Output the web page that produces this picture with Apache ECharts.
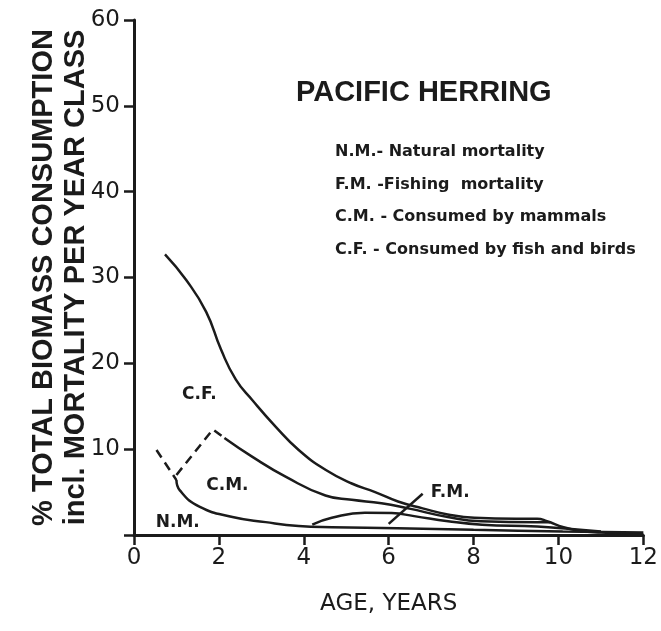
<!DOCTYPE html>
<html>
<head>
<meta charset="utf-8">
<script src="https://cdn.jsdelivr.net/npm/echarts@6/dist/echarts.min.js"></script>
<style>
  html, body { margin: 0; padding: 0; background: #fff; }
  #main { width: 661px; height: 631px; }
</style>
</head>
<body>
<div id="main"></div>
<script>
// ages / percent values
const cfCurve = [[0.73, 32.7], [1.23, 29.7], [1.7, 26.0], [2.05, 21.6], [2.4, 18.1],
  [2.79, 15.7], [3.34, 12.6], [3.88, 9.9], [4.51, 7.6], [5.13, 6.0], [5.68, 5.0], [6.22, 3.9],
  [6.8, 3.1], [7.39, 2.4], [8.02, 2.0], [9.0, 1.9], [9.5, 1.9], [9.73, 1.6], [10.12, 0.9],
  [10.5, 0.5], [11, 0.3], [12, 0.1]];
const cmDashed = [[1.0, 7.0], [1.86, 12.3], [2.13, 11.3]];
const cmCurve = [[2.13, 11.3], [2.79, 9.1], [3.57, 6.8], [4.51, 4.6], [5.13, 4.1],
  [5.83, 3.7], [6.46, 3.1], [7.39, 2.1], [8.17, 1.6], [9.5, 1.5], [9.8, 1.5]];
const nmDashed = [[0.53, 9.9], [1.0, 6.4]];
const nmCurve = [[1.0, 6.4], [1.08, 5.2], [1.54, 3.3], [2.32, 2.1], [3.1, 1.5], [3.88, 1.05],
  [4.66, 0.9], [6.2, 0.8], [8, 0.6], [10.1, 0.4], [12, 0.3]];
const fmCurve = [[4.2, 1.2], [4.66, 2.0], [5.44, 2.6], [6.07, 2.55], [6.6, 2.2], [7.4, 1.6],
  [8.2, 1.2], [9.5, 1.0], [10.3, 0.7], [11, 0.4]];
const fmPointer = [[6.0, 1.3], [6.8, 4.8]];

const curveLabels = [
  { text: "C.F.", at: [1.54, 16.4] },
  { text: "C.M.", at: [2.2, 5.7] },
  { text: "N.M.", at: [1.03, 1.5] },
  { text: "F.M.", at: [7.45, 5.0] },
];
const legendLines = [
  "N.M.- Natural mortality",
  "F.M. -Fishing  mortality",
  "C.M. - Consumed by mammals",
  "C.F. - Consumed by fish and birds",
];

const ink = "#1b1b1b";
const chart = echarts.init(document.getElementById("main"));

function lineSeries(name, data, dashed, smooth) {
  return {
    name: name,
    type: "line",
    data: data,
    smooth: smooth,
    symbol: "none",
    silent: true,
    lineStyle: { color: ink, width: 2.5, type: dashed ? [9, 6] : "solid" },
  };
}

const option = {
  backgroundColor: "#fff",
  animation: false,
  grid: { left: 134, right: 14, top: 20, bottom: 96 },
  xAxis: {
    type: "value",
    min: 0,
    max: 12,
    interval: 2,
    name: "AGE, YEARS",
    nameLocation: "middle",
    nameGap: 58,
    nameMoveOverlap: false,
    nameTextStyle: { color: ink, fontSize: 23, fontFamily: "DejaVu Sans" },
    splitLine: { show: false },
    axisLine: { lineStyle: { color: ink, width: 3 } },
    axisTick: { length: 10, lineStyle: { color: ink, width: 2.5 } },
    axisLabel: { color: ink, fontSize: 23, fontFamily: "DejaVu Sans", margin: 12 },
  },
  yAxis: {
    type: "value",
    min: 0,
    max: 60,
    interval: 10,
    name: "% TOTAL BIOMASS CONSUMPTION\nincl. MORTALITY PER YEAR CLASS",
    nameLocation: "middle",
    nameRotate: 90,
    nameGap: 42,
    nameMoveOverlap: false,
    nameTextStyle: {
      color: ink, fontSize: 29, fontWeight: "bold", fontFamily: "Liberation Sans", lineHeight: 32,
    },
    splitLine: { show: false },
    axisLine: { lineStyle: { color: ink, width: 3 } },
    axisTick: { length: 10, lineStyle: { color: ink, width: 2.5 } },
    axisLabel: {
      color: ink, fontSize: 23, fontFamily: "DejaVu Sans", margin: 14,
      formatter: (v) => (v === 0 ? "" : v),
    },
  },
  series: [
    lineSeries("C.F.", cfCurve, false, 0.5),
    lineSeries("C.M. dashed", cmDashed, true, false),
    lineSeries("C.M.", cmCurve, false, 0.5),
    lineSeries("N.M. dashed", nmDashed, true, false),
    lineSeries("N.M.", nmCurve, false, 0.5),
    lineSeries("F.M.", fmCurve, false, 0.5),
    lineSeries("F.M. pointer", fmPointer, false, false),
  ],
};
chart.setOption(option);

// title, key and curve labels
const graphics = [
  {
    type: "text", left: 296, top: 78,
    style: { text: "PACIFIC HERRING", fill: ink, font: "bold 29px 'Liberation Sans'" },
  },
];
legendLines.forEach((t, i) => {
  graphics.push({
    type: "text", left: 335, top: 144 + i * 32.5,
    style: { text: t, fill: ink, font: "bold 16px 'DejaVu Sans'" },
  });
});
curveLabels.forEach((l) => {
  const p = chart.convertToPixel({ gridIndex: 0 }, l.at);
  graphics.push({
    type: "text", x: p[0], y: p[1],
    style: {
      text: l.text, fill: ink, font: "bold 17px 'DejaVu Sans'",
      align: "center", verticalAlign: "middle",
    },
  });
});
chart.setOption({ graphic: graphics });
</script>
</body>
</html>
